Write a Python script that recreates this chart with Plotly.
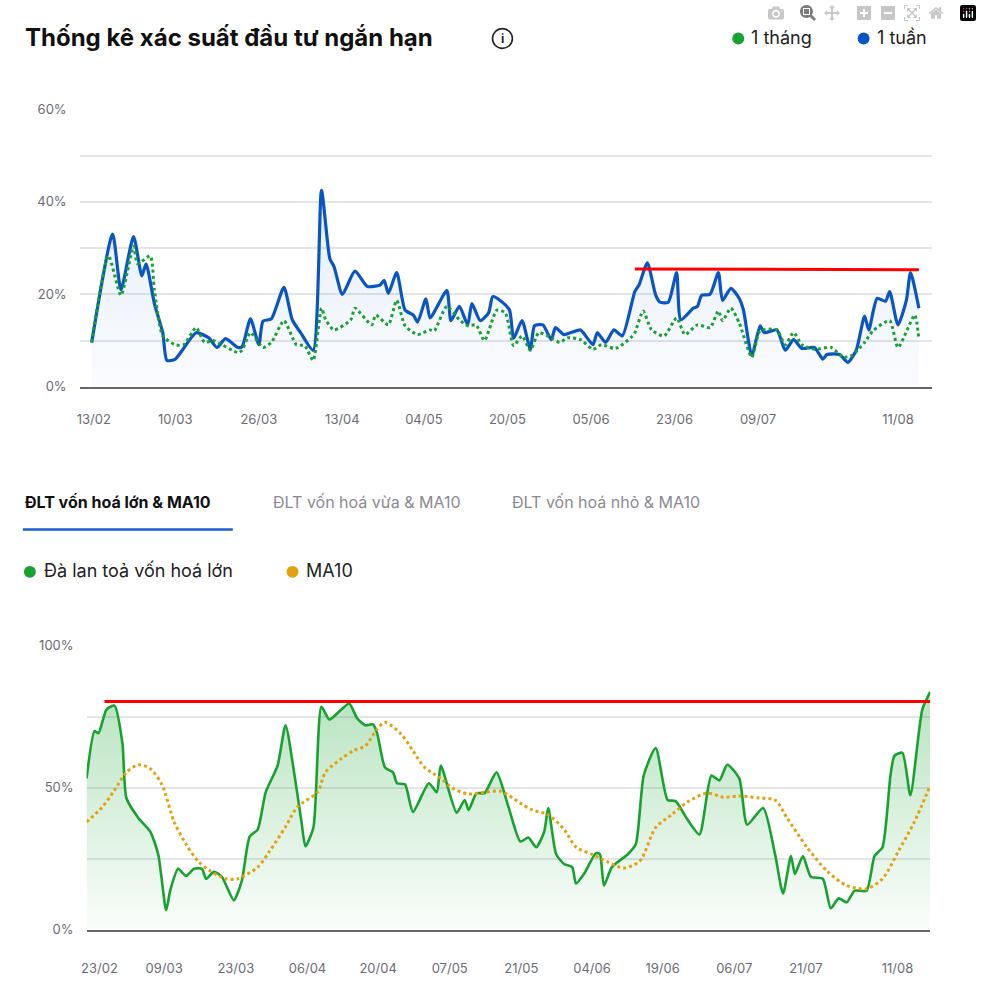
import plotly.graph_objects as go

# ---------- top chart data (trading-day index, %) ----------
week_x = [0,5,7,10,12,13,15,17,18,20,25,28,30,32,35,36,38,40,41,43,46,48,50,53,55,57,58,60,63,66,69,70,71,73,75,77,78,80,81,85,86,88,90,91,93,95,96,98,100,101,103,105,106,108,110,111,113,117,118,120,121,123,125,127,130,131,133,135,136,138,140,141,144,145,146,148,150,151,153,155,156,158,160,161,164,166,168,170,173,175,176,179,181,183,185,186,188,190,191,193,195,196,198]
week_y = [9.6,33,21,32.5,24,26.6,18,11.7,5.7,6,11.7,10.6,8.5,10.4,8.5,8.7,14.7,9.1,14.2,14.7,21.5,14.5,11.7,7.9,42.5,27.7,26,20,25,21.7,22,23,20.2,24.7,16.6,15.5,14,19,14.9,20.8,14.3,17.4,13.4,18,14.3,16,19.5,18.5,16.6,10.5,14.3,8.1,13.2,13.4,10.2,12.8,11.3,12.3,11.3,9.1,11.7,9.6,12.3,11,20.6,22,26.8,19.8,18.3,18.3,24.7,14.5,17,17.4,19.8,20,24.7,18.7,21.3,19.1,16.6,6.8,13.2,11.7,12.3,7.9,10.2,8.3,8.5,6,7,7,5.3,7.9,15.3,12.3,19.1,18.5,20.6,13.4,18.7,24.7,17]
month_x = [0,4,7,10,11,14,15,17,20,22,25,27,29,35,36,38,41,43,46,49,51,53,55,56,58,62,63,67,68,71,73,75,78,81,82,85,88,90,92,94,97,99,101,103,105,107,110,112,114,117,120,122,125,126,129,130,132,134,137,140,142,145,148,150,151,153,155,158,160,164,166,168,170,173,177,180,182,185,187,191,193,197,198]
month_y = [9.6,28.3,19.8,30.4,26.6,28.3,20.9,11,9.1,9.1,12.8,9.6,10,7.4,7.9,11.7,8.5,9.6,14.3,9.1,8.9,5.7,17,14.5,12.3,14.5,17,13.4,15.5,13.4,18.7,13.2,11.3,12.3,12.1,17.4,14.5,13.2,13.4,10,16.6,16,8.9,11,7.9,11.7,10.6,9.6,10.6,10.2,8.1,9.1,8.3,8.5,10.6,11.7,16.4,12.3,11,14.9,11.3,13.4,12.8,16.4,14.3,17,13.8,6.4,12.1,12.3,9.1,11.7,9.1,8.1,8.5,6.4,6.8,9.6,12.1,14.3,8.5,15.5,10.2]
top_red_x = [130, 198]
top_red_y = [25.5, 25.3]
top_tickvals = [0.5, 20, 40, 60, 79.5, 99.5, 119.5, 139.5, 159.5, 193]
top_ticktext = ["13/02", "10/03", "26/03", "13/04", "04/05", "20/05", "05/06", "23/06", "09/07", "11/08"]

# ---------- bottom chart data ----------
spread_x = [0,2,3,5,7,9,10,13,16,18,20,21,23,25,27,29,30,32,34,37,39,41,43,45,48,50,52,54,55,57,59,61,64,66,68,70,72,73,75,77,78,80,82,86,88,89,93,95,96,98,100,103,106,109,111,113,115,116,118,120,122,123,125,128,129,130,132,136,138,140,143,146,148,151,154,157,159,161,164,166,170,173,175,177,178,180,182,185,187,189,191,193,196,198,200,202,203,205,207,210,212]
spread_y = [53.3,69.9,69.2,77.5,78.9,65.7,46.4,39.4,34.6,26.6,6.9,13.8,21.5,19,21.5,21.5,18,20.4,18.7,10.4,17.3,32.9,35.3,48.4,57.8,72,56.7,38,29.4,36,78.5,74,77.5,79.6,74.4,72,72.3,69.2,57.1,55.4,51.6,51.2,41.5,51.6,48.4,57.8,41.2,45.7,42.2,48.1,48.1,55.4,43.3,31.1,32.5,29.1,34.6,42.9,26.6,23.2,22.1,16.3,19.7,27,26.6,15.6,22.1,26.6,30.1,54.3,64,45.7,45.3,38.8,33.6,54.3,52.6,58.1,53.3,37,42.9,26.6,12.8,26,19.7,26,18.7,18,7.6,11.1,9.7,13.8,13.8,26,29.1,54.3,61.2,62.3,47.4,77.5,83.7]
ma_x = [0,4,7,10,13,16,19,22,25,28,31,35,38,43,46,50,53,58,60,64,67,70,73,75,79,82,85,89,92,96,100,104,109,112,116,120,123,127,131,135,139,143,147,151,156,160,164,169,173,176,181,186,191,196,200,204,208,212]
ma_y = [38,43.3,49.1,55.4,58.1,56.7,50.9,38,30.1,24.2,20.8,18,18,22.1,27.7,36.3,43.3,48.4,55.4,60.2,63,64.7,70.6,73,68.9,63,57.1,53.3,49.8,47.8,48.4,48.8,44.6,42.2,40.5,35.3,29.1,26.6,23.9,21.8,24.2,36,40.5,45,48.1,46.7,47.1,46.4,45.7,39.4,29.1,20.8,15.6,14.5,18,27.7,38,50.9]
bot_red_x = [4.5, 212]
bot_red_y = [80.3, 80.3]
bot_tickvals = [3.25, 19.5, 37.5, 55.5, 73.25, 91.25, 109.25, 127, 144.75, 162.75, 180.75, 203.75]
bot_ticktext = ["23/02", "09/03", "23/03", "06/04", "20/04", "07/05", "21/05", "04/06", "19/06", "06/07", "21/07", "11/08"]

BLUE = "#0a55c5"
GREEN = "#15a22e"
ORANGE = "#e5a00d"
W, H = 982, 995

fig = go.Figure()
fig.add_trace(go.Scatter(x=week_x, y=week_y, mode="lines", line=dict(color=BLUE, width=3.2, shape="spline", smoothing=0.6),
                         fill="tozeroy", fillgradient=dict(type="vertical", colorscale=[[0, "rgba(10,85,197,0.02)"], [1, "rgba(10,85,197,0.10)"]]),
                         xaxis="x", yaxis="y"))
fig.add_trace(go.Scatter(x=month_x, y=month_y, mode="lines", line=dict(color=GREEN, width=3, dash="dot", shape="spline", smoothing=0.6),
                         xaxis="x", yaxis="y"))
fig.add_trace(go.Scatter(x=top_red_x, y=top_red_y, mode="lines", line=dict(color="#ff0000", width=3), xaxis="x", yaxis="y"))

fig.add_trace(go.Scatter(x=spread_x, y=spread_y, mode="lines", line=dict(color=GREEN, width=2.6, shape="spline", smoothing=0.6),
                         fill="tozeroy", fillgradient=dict(type="vertical", colorscale=[[0, "rgba(21,162,46,0.02)"], [1, "rgba(21,162,46,0.30)"]]),
                         xaxis="x2", yaxis="y2"))
fig.add_trace(go.Scatter(x=ma_x, y=ma_y, mode="lines", line=dict(color=ORANGE, width=3, dash="dot", shape="spline", smoothing=0.8),
                         xaxis="x2", yaxis="y2"))
fig.add_trace(go.Scatter(x=bot_red_x, y=bot_red_y, mode="lines", line=dict(color="#ff0000", width=3), xaxis="x2", yaxis="y2"))

tickfont = dict(family="Inter, Roboto, sans-serif", size=13, color="#6b6b75")
fig.update_layout(
    width=W, height=H, margin=dict(l=0, r=0, t=0, b=0), showlegend=False,
    paper_bgcolor="white", plot_bgcolor="white",
    xaxis=dict(domain=[75/W, 932/W], range=[-2.9, 201.2], tickvals=top_tickvals, ticktext=top_ticktext,
               showgrid=False, showline=True, linecolor="#666", linewidth=2, ticks="", tickfont=tickfont,
               ticklabelstandoff=20, zeroline=False),
    yaxis=dict(domain=[1-385/H, 1-103/H], range=[0, 60], tickvals=[0, 10, 20, 30, 40, 50, 60],
               ticktext=["0%", "", "20%", "", "40%", "", "60%"], gridcolor="#e4e4ea", gridwidth=1.5,
               zeroline=False, tickfont=tickfont, ticklabelstandoff=12),
    xaxis2=dict(domain=[82/W, 930/W], range=[0, 212], tickvals=bot_tickvals, ticktext=bot_ticktext,
                showgrid=False, showline=True, linecolor="#666", linewidth=2, ticks="", tickfont=tickfont,
                ticklabelstandoff=25, zeroline=False, anchor="y2"),
    yaxis2=dict(domain=[1-937/H, 1-648/H], range=[0, 100], tickvals=[0, 25, 50, 75, 100],
                ticktext=["0%", "", "50%", "", "100%"], gridcolor="#e4e4ea", gridwidth=1.5,
                zeroline=False, tickfont=tickfont, ticklabelstandoff=12, anchor="x2"),
)

def px(x, y):
    return x / W, 1 - y / H

ann = []
shapes = []
def text(x, y, s, size, color, bold=False, xanchor="left"):
    xx, yy = px(x, y)
    ann.append(dict(x=xx, y=yy, xref="paper", yref="paper", text=(f"<b>{s}</b>" if bold else s), showarrow=False,
                    xanchor=xanchor, yanchor="middle", font=dict(family="Inter, Roboto, sans-serif", size=size, color=color)))
def dot(x, y, r, color):
    x0, y0 = px(x - r, y - r); x1, y1 = px(x + r, y + r)
    shapes.append(dict(type="circle", xref="paper", yref="paper", x0=x0, y0=y0, x1=x1, y1=y1, fillcolor=color, line=dict(width=0)))

text(18, 30, "Thống kê xác suất đầu tư ngắn hạn", 24, "#111111", bold=True)
x0, y0 = px(490, 21); x1, y1 = px(510, 41)
shapes.append(dict(type="circle", xref="paper", yref="paper", x0=x0, y0=y0, x1=x1, y1=y1, line=dict(color="#222", width=1.6)))
text(500, 31, "<b>i</b>", 12, "#222", xanchor="center")
dot(737, 31, 6, GREEN); text(748, 30, "1 tháng", 18, "#222")
dot(863, 31, 6, BLUE); text(874, 30, "1 tuần", 18, "#222")

text(18, 502, "ĐLT vốn hoá lớn & MA10", 16, "#111", bold=True)
text(267, 502, "ĐLT vốn hoá vừa & MA10", 16, "#8a8a92")
text(508, 502, "ĐLT vốn hoá nhỏ & MA10", 16, "#8a8a92")
xa, ya = px(18, 530); xb, yb = px(229, 530)
shapes.append(dict(type="line", xref="paper", yref="paper", x0=xa, y0=ya, x1=xb, y1=yb, line=dict(color="#1a5bd6", width=2.5)))
dot(25, 573, 6, GREEN); text(37, 572, "Đà lan toả vốn hoá lớn", 18, "#222")
dot(289, 573, 6, ORANGE); text(301, 572, "MA10", 18, "#222")

fig.update_layout(annotations=ann, shapes=shapes)
fig.write_html("out.html", post_script="document.body.style.margin='0';document.body.style.overflow='hidden';")
